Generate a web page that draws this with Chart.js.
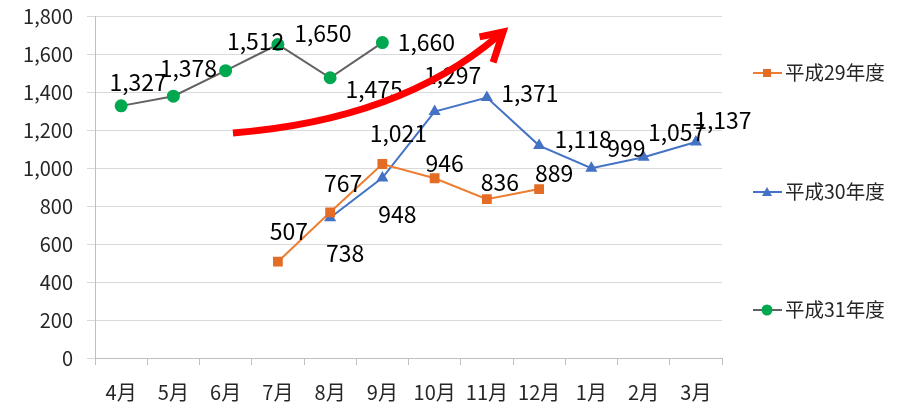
<!DOCTYPE html>
<html>
<head>
<meta charset="utf-8">
<script src="https://cdn.jsdelivr.net/npm/chart.js@4"></script>
<style>
  html, body { margin: 0; padding: 0; background: #fff; }
  #wrap { width: 907px; height: 404px; }
</style>
</head>
<body>
<div id="wrap"><canvas id="salesChart" width="907" height="404"></canvas></div>
<script>
const months = ['4月', '5月', '6月', '7月', '8月', '9月', '10月', '11月', '12月', '1月', '2月', '3月'];
const h29 = [null, null, null, 507, 767, 1021, 946, 836, 889, null, null, null];
const h30 = [null, null, null, null, 738, 948, 1297, 1371, 1118, 999, 1057, 1137];
const h31 = [1327, 1378, 1512, 1650, 1475, 1660, null, null, null, null, null, null];
const seriesNames = ['平成29年度', '平成30年度', '平成31年度'];
const yTicks = [0, 200, 400, 600, 800, 1000, 1200, 1400, 1600, 1800];

// label offsets (px) from each point, hand placed like the original sheet
const labelOffsets = [
    [null, null, null, [11, -30], [13, -29], [16, -31], [10, -15], [13, -17], [15, -16], null, null, null],
    [null, null, null, null, [15, 35], [15, 36], [18, -36], [43, -4], [44, -6], [35, -20], [33, -25], [27, -22]],
    [[17, -24], [15, -28], [30, -29], [45, -11], [44, 12], [44, 0], null, null, null, null, null, null]
];

const FONT = '"Noto Sans CJK JP", "Noto Sans", sans-serif';

const dataLabels = {
    id: 'dataLabels',
    afterDatasetsDraw(chart) {
        const ctx = chart.ctx;
        ctx.save();
        ctx.font = '23px ' + FONT;
        ctx.fillStyle = '#000';
        ctx.textAlign = 'center';
        ctx.textBaseline = 'middle';
        chart.data.datasets.forEach((ds, di) => {
            chart.getDatasetMeta(di).data.forEach((pt, i) => {
                const v = ds.data[i];
                if (v == null) return;
                const off = labelOffsets[di][i] || [0, -20];
                ctx.fillText(v.toLocaleString('en-US'), pt.x + off[0], pt.y + off[1]);
            });
        });
        ctx.restore();
    }
};

const sideLegend = {
    id: 'sideLegend',
    afterDraw(chart) {
        const ctx = chart.ctx;
        const rows = [73, 192, 310];
        ctx.save();
        chart.data.datasets.forEach((ds, i) => {
            const y = rows[i];
            ctx.strokeStyle = ds.borderColor;
            ctx.lineWidth = 2;
            ctx.beginPath();
            ctx.moveTo(753, y);
            ctx.lineTo(782, y);
            ctx.stroke();
            ctx.fillStyle = ds.pointBackgroundColor;
            ctx.beginPath();
            if (ds.pointStyle === 'rect') {
                ctx.rect(763, y - 4, 8, 8);
            } else if (ds.pointStyle === 'triangle') {
                ctx.moveTo(767, y - 5);
                ctx.lineTo(772, y + 4);
                ctx.lineTo(762, y + 4);
                ctx.closePath();
            } else {
                ctx.arc(767, y, 5.5, 0, Math.PI * 2);
            }
            ctx.fill();
            ctx.fillStyle = '#262626';
            ctx.font = '19.5px ' + FONT;
            ctx.textAlign = 'left';
            ctx.textBaseline = 'middle';
            ctx.fillText(ds.label, 785, y);
        });
        ctx.restore();
    }
};

// the red trend arrow, placed in data space
const trendArrow = {
    id: 'trendArrow',
    afterDraw(chart) {
        const xs = chart.scales.x, ys = chart.scales.y;
        const px = i => xs.getPixelForValue(i);
        const start = { x: px(2.14), y: ys.getPixelForValue(1184) };
        const ctrl = { x: px(5.33), y: ys.getPixelForValue(1253) };
        const end = { x: px(7.31), y: ys.getPixelForValue(1716) };
        const ctx = chart.ctx;
        ctx.save();
        ctx.strokeStyle = '#ff0000';
        ctx.lineWidth = 7;
        ctx.lineCap = 'butt';
        ctx.beginPath();
        ctx.moveTo(start.x, start.y);
        ctx.quadraticCurveTo(ctrl.x, ctrl.y, end.x - 5, end.y + 4);
        ctx.stroke();
        const ang = Math.atan2(end.y - ctrl.y, end.x - ctrl.x);
        ctx.lineJoin = 'miter';
        ctx.beginPath();
        ctx.moveTo(end.x + 32 * Math.cos(ang + Math.PI - 0.55), end.y + 32 * Math.sin(ang + Math.PI - 0.55));
        ctx.lineTo(end.x, end.y);
        ctx.lineTo(end.x + 24 * Math.cos(ang + Math.PI + 0.5), end.y + 24 * Math.sin(ang + Math.PI + 0.5));
        ctx.stroke();
        ctx.restore();
    }
};

const ctx = document.getElementById('salesChart').getContext('2d');

new Chart(ctx, {
    type: 'line',
    data: {
        labels: months,
        datasets: [{
            label: seriesNames[0],
            data: h29,
            borderColor: '#ED7D31',
            backgroundColor: '#ED7D31',
            pointBackgroundColor: '#E46C25',
            pointBorderColor: '#E46C25',
            pointStyle: 'rect',
            pointRadius: 5.5,
            borderWidth: 2
        }, {
            label: seriesNames[1],
            data: h30,
            borderColor: '#4472C4',
            backgroundColor: '#4472C4',
            pointBackgroundColor: '#4472C4',
            pointBorderColor: '#4472C4',
            pointStyle: 'triangle',
            pointRadius: 5,
            borderWidth: 2
        }, {
            label: seriesNames[2],
            data: h31,
            borderColor: '#626262',
            backgroundColor: '#00A84F',
            pointBackgroundColor: '#00A84F',
            pointBorderColor: '#00A84F',
            pointStyle: 'circle',
            pointRadius: 5.5,
            borderWidth: 2
        }]
    },
    options: {
        responsive: false,
        animation: false,
        spanGaps: false,
        layout: { padding: { top: 16, right: 185, left: 0, bottom: 0 } },
        plugins: {
            legend: { display: false },
            tooltip: { enabled: false }
        },
        elements: { line: { tension: 0 } },
        scales: {
            x: {
                offset: true,
                afterFit: s => { s.height = 46; },
                grid: {
                    offset: true,
                    drawOnChartArea: false,
                    tickLength: 7,
                    color: '#bfbfbf'
                },
                border: { color: '#bfbfbf' },
                ticks: {
                    color: '#262626',
                    padding: 15,
                    maxRotation: 0,
                    autoSkip: false,
                    font: { family: FONT, size: 20 }
                }
            },
            y: {
                min: yTicks[0],
                max: yTicks[yTicks.length - 1],
                afterFit: s => { s.width = 95; s.paddingTop = 0; s.paddingBottom = 0; },
                afterBuildTicks: s => { s.ticks = yTicks.map(v => ({ value: v })); },
                grid: { color: '#d9d9d9', tickLength: 8, tickColor: '#d9d9d9' },
                border: { color: '#bfbfbf' },
                ticks: {
                    color: '#262626',
                    padding: 14,
                    font: { family: FONT, size: 20 },
                    callback: v => v.toLocaleString('en-US')
                }
            }
        }
    },
    plugins: [dataLabels, sideLegend, trendArrow]
});
</script>
</body>
</html>
